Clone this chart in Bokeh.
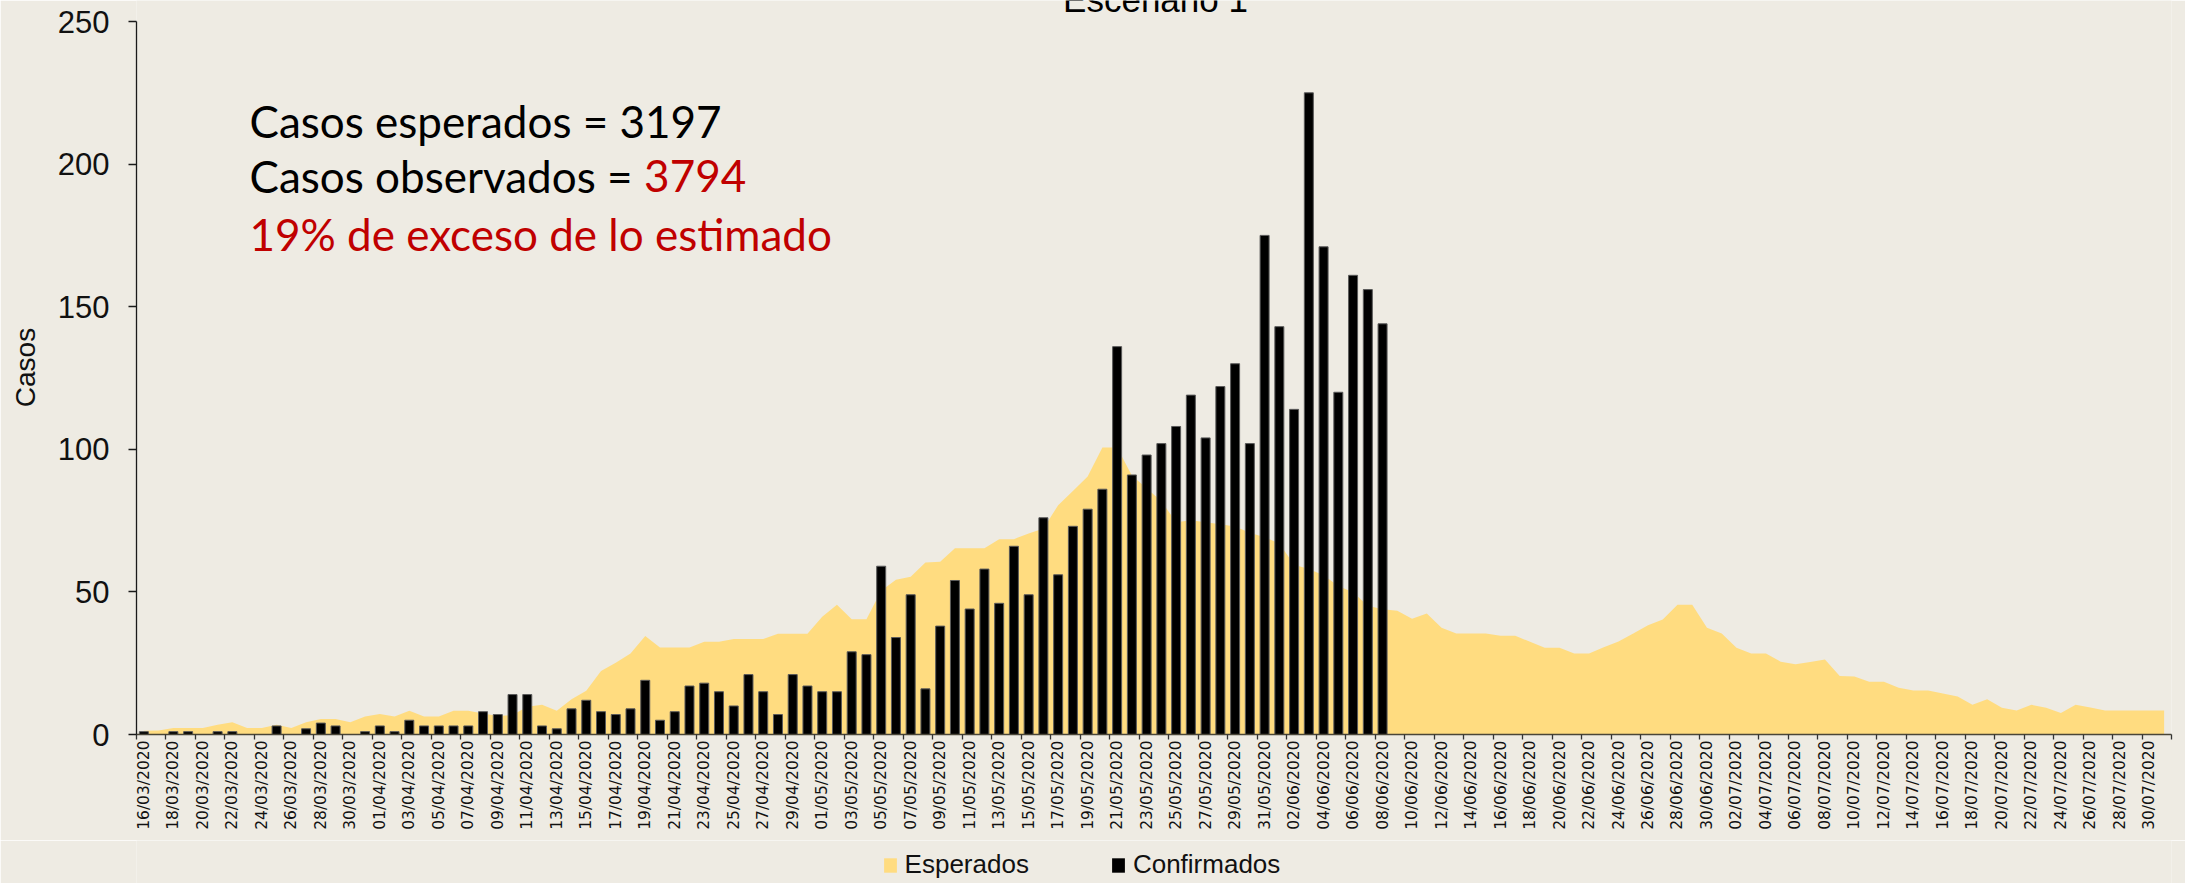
import os
import subprocess
import numpy as np
import pandas as pd
from bokeh.plotting import figure
from bokeh.layouts import column
from bokeh.models import Range1d, FixedTicker, Label, Legend, LegendItem
from bokeh.embed import file_html
from bokeh.resources import INLINE

# ---------------- data ----------------
fechas = [d.strftime("%d/%m/%Y") for d in pd.date_range("2020-03-16", "2020-07-31", freq="D")]

esperados = [
    1.3, 1.4, 2.3, 2.3, 2.3, 3.4, 4.3, 2.3, 2.3, 3.4,
    2.3, 4.3, 5.4, 5.4, 4.3, 6.3, 7.2, 6.3, 8.3, 6.3,
    6.3, 8.3, 8.3, 7.4, 6.5,
    6.8, 9.7, 10.4, 8.3, 12.4, 15.3, 22.3, 25.2, 28.4, 34.5,
    30.5, 30.5, 30.5, 32.5, 32.5, 33.5, 33.5, 33.5, 35.3, 35.3,
    35.3, 41.3, 45.5, 40.4, 40.4, 50.4, 54.3,
    55.3, 60.3, 60.6, 65.3, 65.3, 65.3, 68.5, 68.5, 70.5, 72.2,
    80.4, 85.4, 90.5, 100.6, 100.6, 90.8, 86.3, 81.8, 74.4, 75.1,
    74.4, 73.7, 72.9, 70.7, 69.2, 67.0, 59.5, 58.0, 55.8, 52.1,
    49.9, 45.1, 43.9,
    43.4, 40.6, 42.4, 37.4, 35.4, 35.4, 35.4, 34.6, 34.6, 32.5,
    30.4, 30.4, 28.4, 28.4, 30.6, 32.6, 35.4, 38.3, 40.3, 45.5,
    45.5, 37.4, 35.4, 30.4, 28.4, 28.4, 25.5, 24.6,
    25.4, 26.3, 20.5, 20.3, 18.5, 18.5, 16.4, 15.4, 15.4, 14.4,
    13.3, 10.4, 12.4, 9.4, 8.4, 10.4, 9.4, 7.5, 10.4, 9.5,
    8.4, 8.4, 8.4, 8.4, 8.4,
]

confirmados = [
    1, 0, 1, 1, 0, 1, 1, 0, 0, 3, 0, 2, 4, 3, 0, 1, 3, 1, 5, 3, 3, 3, 3, 8, 7, 14,
    14, 3, 2, 9, 12, 8, 7, 9, 19, 5, 8, 17, 18, 15, 10, 21, 15, 7, 21, 17, 15, 15,
    29, 28, 59, 34, 49,
    16, 38, 54, 44, 58, 46, 66, 49, 76, 56, 73, 79, 86, 136, 91, 98, 102, 108, 119,
    104, 122, 130, 102, 175, 143, 114, 225, 171, 120, 161, 156, 144,
]

y_ticks = [0, 50, 100, 150, 200, 250]

texto_esperados = "Casos esperados = 3197"
texto_observados = "Casos observados = "
valor_observados = "3794"
texto_exceso = "19% de exceso de lo estimado"
titulo = "Escenario 1"
series = ["Esperados", "Confirmados"]

# ---------------- layout constants (pixels) ----------------
W, H_MAIN, H_LEG = 2185, 840, 43
LEFT, RIGHT = 136, 14
AXIS_TOP_PX = 21          # where the value 250 sits
ZERO_PX = 734             # where the value 0 sits
FRAME_W = W - LEFT - RIGHT
N = len(fechas)
YAX = 250.0
PX_PER_UNIT = (ZERO_PX - AXIS_TOP_PX) / YAX
YTOP = ZERO_PX / PX_PER_UNIT   # frame reaches the top edge of the picture
BOTTOM = H_MAIN - ZERO_PX


def px_to_x(px):
    return (px - LEFT) / (FRAME_W / N) - 0.5


def px_to_y(py):
    return (ZERO_PX - py) / PX_PER_UNIT


def measure(text, family, size):
    try:
        from PIL import ImageFont
        path = subprocess.run(["fc-match", "-f", "%{file}", family + ":style=Regular"],
                              capture_output=True, text=True).stdout.strip()
        if path and os.path.exists(path):
            f = ImageFont.truetype(path, 200)
            return f.getlength(text) * size / 200.0
    except Exception:
        pass
    return None


# ---------------- main figure ----------------
BG = "#EEEBE3"
AREA = "#FFDC80"
p = figure(width=W, height=H_MAIN, output_backend="svg", toolbar_location=None,
           x_range=Range1d(-0.5, N - 0.5), y_range=Range1d(0, YTOP),
           background_fill_color=BG, border_fill_color=BG,
           min_border_left=LEFT, min_border_right=RIGHT, min_border_top=0,
           min_border_bottom=BOTTOM)
p.outline_line_color = None
p.grid.visible = False

xs = list(range(len(esperados)))
area = p.varea(x=xs, y1=[0] * len(esperados), y2=esperados, fill_color=AREA)
bars = p.vbar(x=list(range(len(confirmados))), top=confirmados, width=0.61,
              fill_color="black", line_color="#5a5a5a", line_width=1)

# y axis
ya = p.yaxis[0]
ya.ticker = FixedTicker(ticks=y_ticks)
ya.bounds = (0, YAX)
ya.major_label_text_font = "Liberation Sans"
ya.major_label_text_font_size = "31px"
ya.major_label_text_color = "#111111"
ya.major_tick_out = 8
ya.major_tick_in = 0
ya.minor_tick_out = 0
ya.minor_tick_in = 0
ya.major_label_standoff = 19
ya.axis_line_color = "#1a1a1a"
ya.axis_line_width = 1.3
ya.major_tick_line_color = "#1a1a1a"
ya.major_tick_line_width = 1.3
ya.axis_label = "Casos"
ya.axis_label_text_font = "Liberation Sans"
ya.axis_label_text_font_size = "28px"
ya.axis_label_text_font_style = "normal"
ya.axis_label_text_color = "#111111"
ya.axis_label_standoff = 14

# x axis
xa = p.xaxis[0]
major = list(range(0, N, 2))
minor = [m - 0.5 for m in range(0, N + 1, 2)]
xa.ticker = FixedTicker(ticks=major, minor_ticks=minor)
xa.major_label_overrides = {i: fechas[i] for i in major}
xa.major_label_orientation = np.pi / 2
xa.major_label_text_font = "DejaVu Sans"
xa.major_label_text_font_size = "15.5px"
xa.major_label_text_color = "#111111"
xa.major_tick_out = 0
xa.major_tick_in = 0
xa.minor_tick_out = 5
xa.minor_tick_in = 0
xa.minor_tick_line_color = "#333333"
xa.minor_tick_line_width = 1.3
xa.axis_line_color = "#4a4638"
xa.axis_line_width = 1.5
xa.major_label_standoff = 1

# ---------------- annotations ----------------
FONT = "Lato"
w3 = measure(texto_exceso, FONT, 1.0)
fs = 583.0 / w3 if w3 else 44.0
fs = max(40.0, min(48.0, fs))
w_obs = measure(texto_observados, FONT, fs)
x_start_px = 249.0
x_val_px = x_start_px + w_obs if w_obs else 628.0
shift = 0.36 * fs  # measured baseline shift of Label text


def lab(x_px, base_px, text, color, size, font=FONT, align="left", sh=None):
    s = shift if sh is None else sh
    return Label(x=px_to_x(x_px), y=px_to_y(base_px - s), text=text, text_font=font,
                 text_font_size=f"{size:.1f}px", text_color=color, text_align=align,
                 text_baseline="alphabetic")


p.add_layout(lab(x_start_px, 136.0, texto_esperados, "black", fs))
p.add_layout(lab(x_start_px, 191.7, texto_observados, "black", fs))
p.add_layout(lab(x_val_px, 191.7, valor_observados, "#C00000", fs))
p.add_layout(lab(x_start_px, 249.3, texto_exceso, "#C00000", fs))
# title: the reference shows it cut by the top edge of the picture
p.add_layout(lab(1155.0, 10.5, titulo, "black", 35.0, font="Liberation Sans",
                 align="center", sh=11.5))

# ---------------- legend strip ----------------
p2 = figure(width=W, height=H_LEG, output_backend="svg", toolbar_location=None,
            x_range=Range1d(0, 1), y_range=Range1d(0, 1),
            x_axis_type=None, y_axis_type=None, min_border=0,
            background_fill_color=BG, border_fill_color=BG)
p2.outline_line_color = None
p2.grid.visible = False
# legend-only renderers (zero-size, nothing visible in the strip)
r_area = p2.varea(x=[0, 0], y1=[0, 0], y2=[0, 0], fill_color=AREA)
r_bar = p2.vbar(x=[0], top=[0], width=0, fill_color="black", line_color=None)

legend = Legend(items=[LegendItem(label=series[0], renderers=[r_area]),
                       LegendItem(label=series[1], renderers=[r_bar])],
                orientation="horizontal", location=(881.6 - LEFT, 3),
                background_fill_alpha=0, border_line_color=None,
                padding=0, margin=0, spacing=81, label_standoff=7,
                glyph_width=16, glyph_height=18, label_height=18,
                label_text_font="Liberation Sans", label_text_font_size="26px",
                label_text_color="#111111")
p2.add_layout(legend, "center")

layout = column(p, p2, spacing=0)
open("out.html", "w").write(file_html(layout, INLINE))
